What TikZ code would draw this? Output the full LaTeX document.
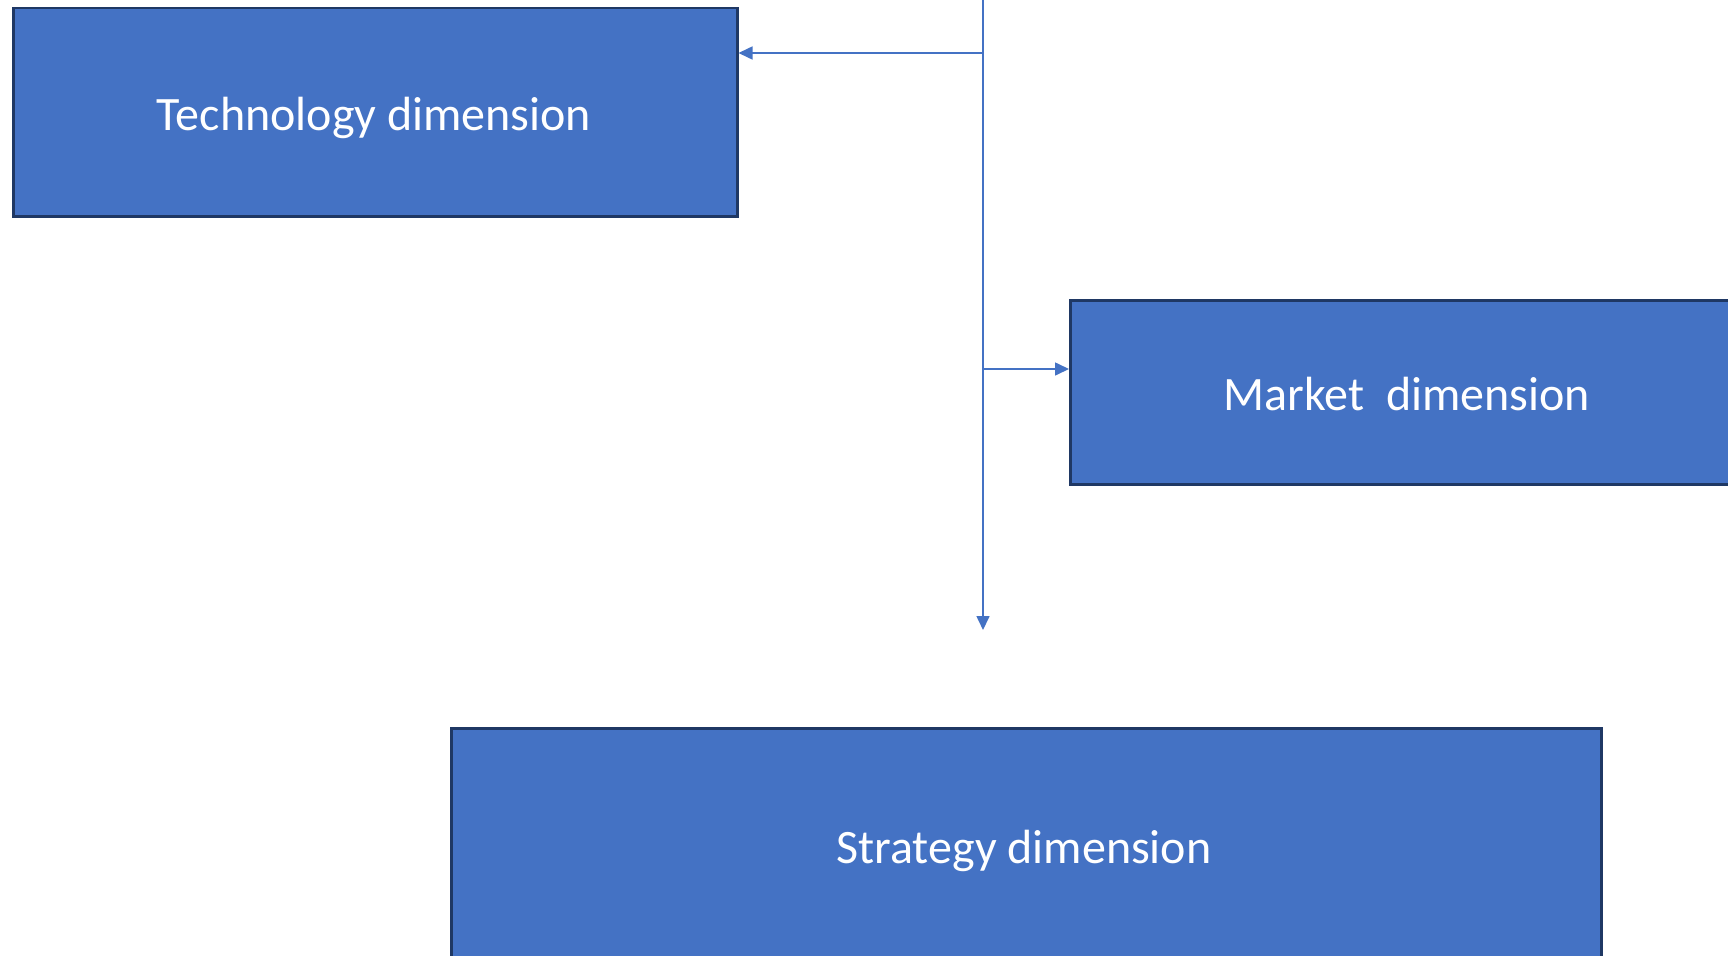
\documentclass[tikz,border=0pt]{standalone}
\usepackage{fontspec}
\setmainfont{Carlito}
\usetikzlibrary{arrows.meta}
\definecolor{boxfill}{HTML}{4472C4}
\definecolor{boxline}{HTML}{1F3864}
\definecolor{linkcol}{HTML}{4472C4}
\begin{document}
\begin{tikzpicture}[x=1pt,y=-1pt,
  dimbox/.style={draw=boxline, line width=2.5pt, fill=boxfill,
    inner sep=0pt, anchor=north west},
  dimtext/.style={text=white, font=\fontsize{48}{56}\selectfont,
    inner sep=0pt, anchor=base},
  link/.style={draw=linkcol, line width=1.6pt,
    -{Triangle[length=14pt,width=13pt]}}]
\useasboundingbox (0,0) rectangle (1728,955);
\begin{scope}
\clip (0,0) rectangle (1728,955);
% boxes
\node[dimbox, minimum width=724pt, minimum height=208pt] (tech) at (12,7) {};
\node[dimtext] (techlabel) at (374,131) {Technology dimension};
\node[dimbox, minimum width=680pt, minimum height=184pt] (market) at (1069,299) {};
\node[dimtext] (marketlabel) at (1407,410) {Market\ \ dimension};
\node[dimbox, minimum width=1150pt, minimum height=250pt] (strategy) at (450,727) {};
\node[dimtext] (strategylabel) at (1024,863) {Strategy dimension};
% connectors
\coordinate (top) at (983,-2);
\coordinate (down) at (983,630);
\coordinate (jt) at (983,53);
\coordinate (jm) at (983,369);
\draw[link] (top) -- (down);
\draw[link] (jt) -- (jt -| tech.east);
\draw[link] (jm) -- (jm -| market.west);
\end{scope}
\end{tikzpicture}
\end{document}
